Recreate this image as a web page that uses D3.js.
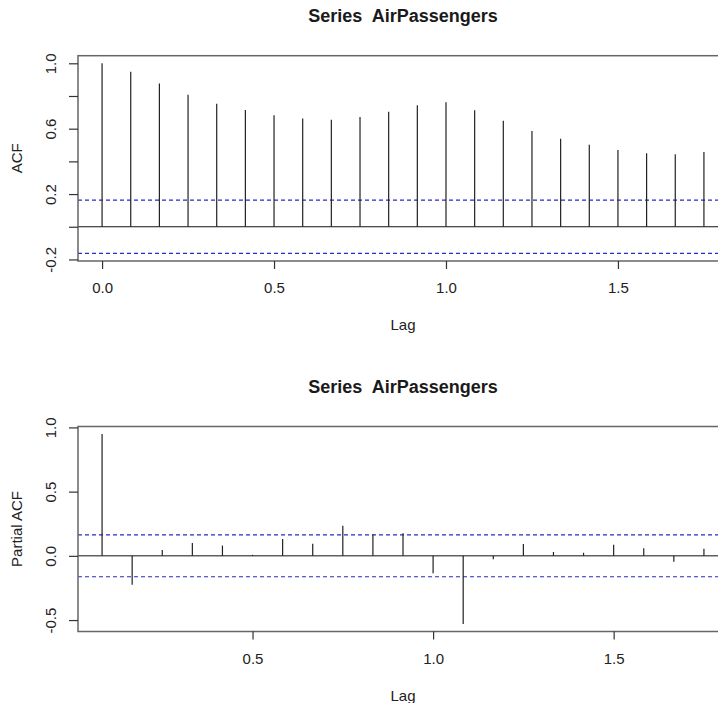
<!DOCTYPE html>
<html>
<head>
<meta charset="utf-8">
<script src="https://cdn.jsdelivr.net/npm/d3@7"></script>
<style>
  html, body { margin: 0; padding: 0; background: #fff; }
  svg { display: block; }
</style>
</head>
<body>
<svg id="chart" width="718" height="703"></svg>
<script>
// ---- data ----
const seriesTitle = "Series  AirPassengers";
const frequency = 12;
const acfLagMonths = [0,1,2,3,4,5,6,7,8,9,10,11,12,13,14,15,16,17,18,19,20,21];
const acfValues = [1.000,0.948,0.876,0.807,0.753,0.714,0.682,0.663,0.654,0.671,0.703,0.743,0.762,0.713,0.648,0.586,0.538,0.502,0.469,0.450,0.444,0.457];
const pacfLagMonths = [1,2,3,4,5,6,7,8,9,10,11,12,13,14,15,16,17,18,19,20,21];
const pacfValues = [0.948,-0.225,0.045,0.100,0.080,0.008,0.132,0.094,0.235,0.168,0.175,-0.136,-0.530,-0.027,0.092,0.030,0.024,0.086,0.060,-0.046,0.055];
const confLimit = 0.163;
const acfYTicks = [-0.2,0.0,0.2,0.4,0.6,0.8,1.0];
const acfYTickLabels = ["-0.2","","0.2","","0.6","","1.0"];
const pacfYTicks = [-0.5,0.0,0.5,1.0];
const pacfYTickLabels = ["-0.5","0.0","0.5","1.0"];
const acfXTicks = [0.0,0.5,1.0,1.5];
const pacfXTicks = [0.5,1.0,1.5];
const xTickLabelFmt = d3.format(".1f");

// ---- drawing ----
const svg = d3.select("#chart");
const FONT = "'Liberation Sans', Arial, sans-serif";
const boxLeft = 78, boxRight = 728;

function ext(lo, hi) { const r = hi - lo; return [lo - 0.04 * r, hi + 0.04 * r]; }

function panel(opts) {
  const lags = opts.lagMonths.map(m => m / frequency);
  const xd = ext(d3.min(lags), d3.max(lags));
  const yd = ext(Math.min(-confLimit, d3.min(opts.values)), Math.max(confLimit, d3.max(opts.values)));
  const x = d3.scaleLinear().domain(xd).range([boxLeft, boxRight]);
  const y = d3.scaleLinear().domain(yd).range([opts.bottom, opts.top]);
  const g = svg.append("g");

  // confidence lines
  [confLimit, -confLimit].forEach(c => {
    g.append("line")
      .attr("x1", boxLeft).attr("x2", boxRight)
      .attr("y1", y(c)).attr("y2", y(c))
      .attr("stroke", "#2a2ac4").attr("stroke-width", 1.1)
      .attr("stroke-dasharray", "4,3");
  });
  // zero line
  g.append("line")
    .attr("x1", boxLeft).attr("x2", boxRight)
    .attr("y1", y(0)).attr("y2", y(0))
    .attr("stroke", "#111").attr("stroke-width", 1);
  // spikes
  g.selectAll("line.spike").data(opts.values).join("line")
    .attr("class", "spike")
    .attr("x1", (d, i) => x(lags[i])).attr("x2", (d, i) => x(lags[i]))
    .attr("y1", y(0)).attr("y2", d => y(d))
    .attr("stroke", "#222").attr("stroke-width", 1.2);
  // box
  g.append("rect")
    .attr("x", boxLeft).attr("y", opts.top)
    .attr("width", boxRight - boxLeft).attr("height", opts.bottom - opts.top)
    .attr("fill", "none").attr("stroke", "#666").attr("stroke-width", 1.5);

  // x axis
  const xa = g.append("g").attr("transform", `translate(0,${opts.bottom})`)
    .call(d3.axisBottom(x).tickValues(opts.xTicks).tickFormat(xTickLabelFmt).tickSize(8));
  xa.select(".domain").remove();
  xa.selectAll(".tick line").attr("stroke", "#333").attr("stroke-width", 1.2);
  xa.selectAll(".tick text")
    .attr("y", 27).attr("dy", "0.35em")
    .attr("font-family", FONT).attr("font-size", 15).attr("fill", "#222");

  // y axis
  const ya = g.append("g").attr("transform", `translate(${boxLeft},0)`)
    .call(d3.axisLeft(y).tickValues(opts.yTicks).tickFormat((d, i) => opts.yLabels[i]).tickSize(9));
  ya.select(".domain").remove();
  ya.selectAll(".tick line").attr("stroke", "#333").attr("stroke-width", 1.2);
  ya.selectAll(".tick text")
    .attr("x", 0).attr("y", -27).attr("dy", "0.35em")
    .attr("transform", "rotate(-90)")
    .attr("text-anchor", "middle")
    .attr("font-family", FONT).attr("font-size", 15).attr("fill", "#222");

  const cx = (boxLeft + boxRight) / 2;
  // title
  g.append("text").attr("x", cx).attr("y", opts.top - 40).attr("dy", "0.35em")
    .attr("text-anchor", "middle").attr("font-family", FONT)
    .attr("font-weight", "bold").attr("font-size", 18).attr("fill", "#1a1a1a")
    .attr("xml:space", "preserve").style("white-space", "pre")
    .text(seriesTitle);
  // x label
  g.append("text").attr("x", cx).attr("y", opts.bottom + 64).attr("dy", "0.35em")
    .attr("text-anchor", "middle").attr("font-family", FONT)
    .attr("font-size", 15).attr("fill", "#222").text("Lag");
  // y label
  g.append("text")
    .attr("transform", `translate(17,${(opts.top + opts.bottom) / 2}) rotate(-90)`)
    .attr("dy", "0.35em")
    .attr("text-anchor", "middle").attr("font-family", FONT)
    .attr("font-size", 15).attr("fill", "#222").text(opts.yTitle);
}

panel({ lagMonths: acfLagMonths, values: acfValues, top: 55.7, bottom: 261,
        xTicks: acfXTicks, yTicks: acfYTicks, yLabels: acfYTickLabels, yTitle: "ACF" });
panel({ lagMonths: pacfLagMonths, values: pacfValues, top: 426.5, bottom: 631.5,
        xTicks: pacfXTicks, yTicks: pacfYTicks, yLabels: pacfYTickLabels, yTitle: "Partial ACF" });
</script>
</body>
</html>
